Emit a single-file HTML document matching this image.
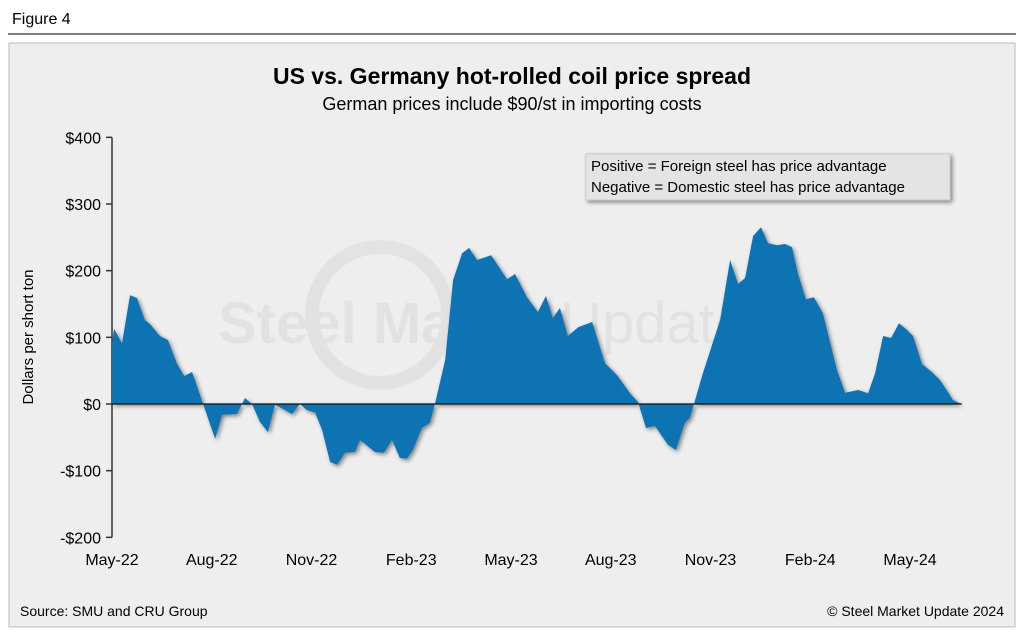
<!DOCTYPE html>
<html><head><meta charset="utf-8"><style>
body{margin:0;background:#fff;font-family:"Liberation Sans",sans-serif;}
#wrap{position:relative;width:1024px;height:633px;overflow:hidden;background:#fff}
</style></head><body>
<div id="wrap">
<svg width="1024" height="633">
<defs><filter id="sh" x="-5%" y="-5%" width="115%" height="120%"><feDropShadow dx="2" dy="2" stdDeviation="2" flood-color="#000" flood-opacity="0.45"/></filter></defs>
<text x="12" y="24" font-size="16" fill="#000">Figure 4</text>
<line x1="8" y1="34" x2="1016" y2="34" stroke="#000" stroke-width="1"/>
<rect x="9" y="43" width="1006" height="584" fill="#eeeeee" stroke="#bbb"/>
<g opacity="0.045">
<circle cx="380" cy="315" r="68" fill="none" stroke="#000" stroke-width="14"/>
<text x="218" y="343" font-size="58" font-weight="bold" fill="#000">Steel Market</text>
<text x="560" y="343" font-size="58" fill="#000">Update</text>
</g>
<text x="512" y="84" font-size="23" font-weight="bold" text-anchor="middle">US vs. Germany hot-rolled coil price spread</text>
<text x="512" y="110" font-size="18" text-anchor="middle">German prices include $90/st in importing costs</text>
<g id="yax"></g>
<g id="xax"></g>
<g id="plot"></g>
<text x="33" y="337" font-size="15" text-anchor="middle" transform="rotate(-90 33 337)">Dollars per short ton</text>
<g>
<rect x="586" y="154" width="364" height="46" fill="#e4e4e4" stroke="#ccc" filter="url(#sh)"/>
<text x="591" y="171" font-size="15">Positive = Foreign steel has price advantage</text>
<text x="591" y="192" font-size="15">Negative = Domestic steel has price advantage</text>
</g>
<text x="20" y="616" font-size="14">Source: SMU and CRU Group</text>
<text x="1004" y="616" font-size="14" text-anchor="end">© Steel Market Update 2024</text>
</svg>
</div>
<script>
const monthOffsets=[0,0.06,0.30,0.54,0.75,0.99,1.14,1.44,1.68,1.95,2.17,2.41,2.74,3.10,3.31,3.76,4.00,4.21,4.45,4.69,4.90,5.20,5.41,5.65,5.86,6.11,6.32,6.56,6.77,7.01,7.31,7.46,7.91,8.18,8.42,8.66,8.87,9.05,9.32,9.56,9.71,10.02,10.26,10.53,10.74,10.98,11.40,11.88,12.12,12.48,12.81,13.05,13.26,13.47,13.71,14.02,14.44,14.83,15.19,15.58,15.82,16.06,16.33,16.72,16.96,17.23,17.38,17.77,18.29,18.59,18.83,19.04,19.28,19.52,19.73,20.0,20.24,20.45,20.63,20.87,21.11,21.38,21.80,22.05,22.44,22.74,22.95,23.19,23.43,23.67,23.91,24.09,24.36,24.66,24.90,25.14,25.29,25.50];
const spreadValues=[91,113,91,163,159,126,120,102,96,61,42,48,0,-52,-16,-15,9,0,-27,-42,-1,-9,-15,0,-9,-13,-39,-87,-91,-73,-72,-54,-72,-73,-54,-81,-82,-69,-36,-28,0,66,186,226,234,216,223,187,195,160,138,162,129,144,102,115,123,61,43,16,3,-36,-33,-61,-69,-28,-21,46,126,216,180,189,252,265,241,238,240,235,196,157,160,136,51,17,21,16,46,102,99,121,111,102,60,48,36,18,6,1];
const yTicks=[400,300,200,100,0,-100,-200];
const yTickLabels=["$400","$300","$200","$100","$0","-$100","-$200"];
const xTickMonths=[0,3,6,9,12,15,18,21,24];
const xTickLabels=["May-22","Aug-22","Nov-22","Feb-23","May-23","Aug-23","Nov-23","Feb-24","May-24"];
const X=m=>112+m*33.25;
const Y=v=>404-v*0.6667;
const NS="http://www.w3.org/2000/svg";
function mk(t,a,p){const e=document.createElementNS(NS,t);for(const k in a)e.setAttribute(k,a[k]);p.appendChild(e);return e;}
const yax=document.getElementById('yax'),xax=document.getElementById('xax'),plot=document.getElementById('plot');
mk('line',{x1:112,y1:Y(400),x2:112,y2:Y(-200),stroke:'#333','stroke-width':1.5},yax);
yTicks.forEach((v,i)=>{
 const t=mk('line',{x1:106,y1:Y(v),x2:112,y2:Y(v),stroke:'#333','stroke-width':1.5},yax);
 
 
 const l=mk('text',{x:101,y:Y(v)+6,'font-size':16,'text-anchor':'end'},yax);
 l.textContent=yTickLabels[i];
 
 
});
xTickMonths.forEach((m,i)=>{
 const l=mk('text',{x:X(m),y:565,'font-size':16,'text-anchor':'middle'},xax);
 l.textContent=xTickLabels[i];
 
 
});
let d='M'+X(monthOffsets[0])+','+Y(0);
monthOffsets.forEach((m,i)=>{d+=' L'+X(m).toFixed(1)+','+Y(spreadValues[i]).toFixed(1);});
d+=' L'+X(monthOffsets[monthOffsets.length-1])+','+Y(0)+' Z';
const area=mk('path',{d:d,fill:'#1173b3',filter:'url(#sh)'},plot);


const zl=mk('line',{x1:112,y1:Y(0),x2:X(monthOffsets[monthOffsets.length-1])+2,y2:Y(0),stroke:'#111','stroke-width':1.3},plot);


</script>
</body></html>
